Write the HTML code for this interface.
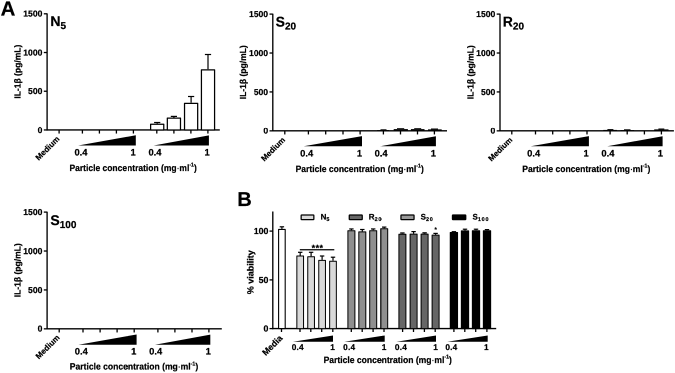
<!DOCTYPE html>
<html><head><meta charset="utf-8"><title>Figure</title>
<style>html,body{margin:0;padding:0;background:#fff;width:675px;height:373px;overflow:hidden;}#fig{width:675px;height:373px;overflow:hidden;position:relative;}svg{display:block;transform:scale(0.5);transform-origin:0 0;will-change:transform;}text{stroke:#000;stroke-width:0.22px;text-rendering:geometricPrecision;}</style></head><body><div id="fig">
<svg width="1350" height="746" viewBox="0 0 675 373" font-family="'Liberation Sans',sans-serif" font-weight="bold" fill="#000">
<defs><filter id="soft" x="0" y="0" width="675" height="373" filterUnits="userSpaceOnUse" color-interpolation-filters="sRGB"><feGaussianBlur stdDeviation="0.42"/></filter></defs>
<rect x="0" y="0" width="675" height="373" fill="#fff"/>
<g stroke-linejoin="round">
<rect x="0" y="0" width="675" height="373" fill="#fff"/>
<text x="0.6" y="15.55" font-size="20.4" text-anchor="start" >A</text>
<text x="237.2" y="206.0" font-size="20" text-anchor="start" >B</text>
<line x1="47.1" y1="13.4" x2="47.1" y2="130.6" stroke="#000" stroke-width="1.35"/>
<line x1="46.45" y1="129.95" x2="219.8" y2="129.95" stroke="#000" stroke-width="1.35"/>
<line x1="43.800000000000004" y1="13.8" x2="47.1" y2="13.8" stroke="#000" stroke-width="1.3"/>
<text x="42.4" y="16.65" font-size="8.6" text-anchor="end" >1500</text>
<line x1="43.800000000000004" y1="52.516666666666666" x2="47.1" y2="52.516666666666666" stroke="#000" stroke-width="1.3"/>
<text x="42.4" y="55.37" font-size="8.6" text-anchor="end" >1000</text>
<line x1="43.800000000000004" y1="91.23333333333332" x2="47.1" y2="91.23333333333332" stroke="#000" stroke-width="1.3"/>
<text x="42.4" y="94.08" font-size="8.6" text-anchor="end" >500</text>
<line x1="43.800000000000004" y1="129.95" x2="47.1" y2="129.95" stroke="#000" stroke-width="1.3"/>
<text x="42.4" y="132.8" font-size="8.6" text-anchor="end" >0</text>
<line x1="59.1" y1="129.95" x2="59.1" y2="133.54999999999998" stroke="#000" stroke-width="1.3"/>
<line x1="82.4" y1="129.95" x2="82.4" y2="133.54999999999998" stroke="#000" stroke-width="1.3"/>
<line x1="99.4" y1="129.95" x2="99.4" y2="133.54999999999998" stroke="#000" stroke-width="1.3"/>
<line x1="116.4" y1="129.95" x2="116.4" y2="133.54999999999998" stroke="#000" stroke-width="1.3"/>
<line x1="133.4" y1="129.95" x2="133.4" y2="133.54999999999998" stroke="#000" stroke-width="1.3"/>
<line x1="156.8" y1="129.95" x2="156.8" y2="133.54999999999998" stroke="#000" stroke-width="1.3"/>
<line x1="173.9" y1="129.95" x2="173.9" y2="133.54999999999998" stroke="#000" stroke-width="1.3"/>
<line x1="190.9" y1="129.95" x2="190.9" y2="133.54999999999998" stroke="#000" stroke-width="1.3"/>
<line x1="207.9" y1="129.95" x2="207.9" y2="133.54999999999998" stroke="#000" stroke-width="1.3"/>
<polygon points="78.20,145.5 135.8,145.5 135.8,135.3" fill="#000"/>
<polygon points="153.70,145.5 208.9,145.5 208.9,135.4" fill="#000"/>
<text x="81.0" y="155.4" font-size="9.4" text-anchor="middle" >0.4</text>
<text x="155.0" y="155.4" font-size="9.4" text-anchor="middle" >0.4</text>
<text x="133.1" y="155.4" font-size="9.4" text-anchor="middle" >1</text>
<text x="207.1" y="155.4" font-size="9.4" text-anchor="middle" >1</text>
<text transform="translate(60.10,139.50) rotate(-45)" font-size="8" text-anchor="end">Medium</text>
<text x="69.5" y="171.0" font-size="9.1" textLength="127.3" lengthAdjust="spacingAndGlyphs">Particle concentration (mg<tspan font-weight="normal">·</tspan>ml<tspan font-size="5.6" dy="-4.3">-1</tspan><tspan dy="4.3">)</tspan></text>
<text transform="translate(20.5,71.675) rotate(-90)" font-size="8.8" text-anchor="middle" textLength="54" lengthAdjust="spacingAndGlyphs">IL-1β (pg/mL)</text>
<text x="50.4" y="26.2" font-size="14">N<tspan font-size="10" dy="3">5</tspan></text>
<line x1="157.2" y1="122.5" x2="157.2" y2="123.6" stroke="#000" stroke-width="1.2"/>
<line x1="154.1" y1="122.5" x2="160.29999999999998" y2="122.5" stroke="#000" stroke-width="1.2"/>
<rect x="150.62" y="124.22" width="13.15" height="5.72" fill="#fff" stroke="#000" stroke-width="1.25"/>
<line x1="173.9" y1="116.4" x2="173.9" y2="117.5" stroke="#000" stroke-width="1.2"/>
<line x1="170.8" y1="116.4" x2="177.0" y2="116.4" stroke="#000" stroke-width="1.2"/>
<rect x="167.33" y="118.12" width="13.15" height="11.82" fill="#fff" stroke="#000" stroke-width="1.25"/>
<line x1="191.1" y1="96.5" x2="191.1" y2="102.7" stroke="#000" stroke-width="1.2"/>
<line x1="188.0" y1="96.5" x2="194.2" y2="96.5" stroke="#000" stroke-width="1.2"/>
<rect x="184.53" y="103.33" width="13.15" height="26.62" fill="#fff" stroke="#000" stroke-width="1.25"/>
<line x1="208.0" y1="54.5" x2="208.0" y2="69.2" stroke="#000" stroke-width="1.2"/>
<line x1="204.9" y1="54.5" x2="211.1" y2="54.5" stroke="#000" stroke-width="1.2"/>
<rect x="201.43" y="69.83" width="13.15" height="60.12" fill="#fff" stroke="#000" stroke-width="1.25"/>
<line x1="272.8" y1="13.7" x2="272.8" y2="131.5" stroke="#000" stroke-width="1.35"/>
<line x1="272.15000000000003" y1="130.85" x2="447.0" y2="130.85" stroke="#000" stroke-width="1.35"/>
<line x1="269.5" y1="14.1" x2="272.8" y2="14.1" stroke="#000" stroke-width="1.3"/>
<text x="268.1" y="16.95" font-size="8.6" text-anchor="end" >1500</text>
<line x1="269.5" y1="53.016666666666666" x2="272.8" y2="53.016666666666666" stroke="#000" stroke-width="1.3"/>
<text x="268.1" y="55.87" font-size="8.6" text-anchor="end" >1000</text>
<line x1="269.5" y1="91.93333333333332" x2="272.8" y2="91.93333333333332" stroke="#000" stroke-width="1.3"/>
<text x="268.1" y="94.78" font-size="8.6" text-anchor="end" >500</text>
<line x1="269.5" y1="130.85" x2="272.8" y2="130.85" stroke="#000" stroke-width="1.3"/>
<text x="268.1" y="133.7" font-size="8.6" text-anchor="end" >0</text>
<line x1="284.8" y1="130.85" x2="284.8" y2="134.45" stroke="#000" stroke-width="1.3"/>
<line x1="308.4" y1="130.85" x2="308.4" y2="134.45" stroke="#000" stroke-width="1.3"/>
<line x1="325.7" y1="130.85" x2="325.7" y2="134.45" stroke="#000" stroke-width="1.3"/>
<line x1="343.0" y1="130.85" x2="343.0" y2="134.45" stroke="#000" stroke-width="1.3"/>
<line x1="360.1" y1="130.85" x2="360.1" y2="134.45" stroke="#000" stroke-width="1.3"/>
<line x1="383.4" y1="130.85" x2="383.4" y2="134.45" stroke="#000" stroke-width="1.3"/>
<line x1="400.5" y1="130.85" x2="400.5" y2="134.45" stroke="#000" stroke-width="1.3"/>
<line x1="417.5" y1="130.85" x2="417.5" y2="134.45" stroke="#000" stroke-width="1.3"/>
<line x1="434.4" y1="130.85" x2="434.4" y2="134.45" stroke="#000" stroke-width="1.3"/>
<polygon points="303.70,146.3 362.0,146.3 362.0,136.1" fill="#000"/>
<polygon points="380.00,146.3 435.9,146.3 435.9,136.2" fill="#000"/>
<text x="306.7" y="156.3" font-size="9.4" text-anchor="middle" >0.4</text>
<text x="381.09999999999997" y="156.3" font-size="9.4" text-anchor="middle" >0.4</text>
<text x="359.5" y="156.3" font-size="9.4" text-anchor="middle" >1</text>
<text x="433.29999999999995" y="156.3" font-size="9.4" text-anchor="middle" >1</text>
<text transform="translate(285.70,140.40) rotate(-45)" font-size="8" text-anchor="end">Medium</text>
<text x="295.6" y="171.9" font-size="9.1" textLength="128.2" lengthAdjust="spacingAndGlyphs">Particle concentration (mg<tspan font-weight="normal">·</tspan>ml<tspan font-size="5.6" dy="-4.3">-1</tspan><tspan dy="4.3">)</tspan></text>
<text transform="translate(246.1,72.27499999999999) rotate(-90)" font-size="8.8" text-anchor="middle" textLength="54" lengthAdjust="spacingAndGlyphs">IL-1β (pg/mL)</text>
<text x="275.6" y="26.6" font-size="14">S<tspan font-size="10" dy="3">20</tspan></text>
<rect x="377.1" y="130.10" width="11.90" height="0.75" fill="#000" opacity="0.9"/>
<rect x="380.5" y="129.30" width="6.00" height="1" fill="#000" opacity="1"/>
<rect x="393.7" y="129.00" width="14.20" height="1.85" fill="#000" opacity="0.9"/>
<rect x="397.0" y="128.20" width="7.20" height="1" fill="#000" opacity="1"/>
<rect x="410.9" y="129.00" width="13.60" height="1.85" fill="#000" opacity="0.9"/>
<rect x="414.2" y="128.20" width="7.00" height="1" fill="#000" opacity="1"/>
<rect x="428.0" y="129.30" width="13.70" height="1.55" fill="#000" opacity="0.9"/>
<rect x="431.0" y="128.50" width="7.00" height="1" fill="#000" opacity="1"/>
<line x1="500.0" y1="13.7" x2="500.0" y2="131.5" stroke="#000" stroke-width="1.35"/>
<line x1="499.35" y1="130.85" x2="673.9" y2="130.85" stroke="#000" stroke-width="1.35"/>
<line x1="496.7" y1="14.1" x2="500.0" y2="14.1" stroke="#000" stroke-width="1.3"/>
<text x="495.3" y="16.95" font-size="8.6" text-anchor="end" >1500</text>
<line x1="496.7" y1="53.016666666666666" x2="500.0" y2="53.016666666666666" stroke="#000" stroke-width="1.3"/>
<text x="495.3" y="55.87" font-size="8.6" text-anchor="end" >1000</text>
<line x1="496.7" y1="91.93333333333332" x2="500.0" y2="91.93333333333332" stroke="#000" stroke-width="1.3"/>
<text x="495.3" y="94.78" font-size="8.6" text-anchor="end" >500</text>
<line x1="496.7" y1="130.85" x2="500.0" y2="130.85" stroke="#000" stroke-width="1.3"/>
<text x="495.3" y="133.7" font-size="8.6" text-anchor="end" >0</text>
<line x1="511.8" y1="130.85" x2="511.8" y2="134.45" stroke="#000" stroke-width="1.3"/>
<line x1="535.5" y1="130.85" x2="535.5" y2="134.45" stroke="#000" stroke-width="1.3"/>
<line x1="552.7" y1="130.85" x2="552.7" y2="134.45" stroke="#000" stroke-width="1.3"/>
<line x1="569.9" y1="130.85" x2="569.9" y2="134.45" stroke="#000" stroke-width="1.3"/>
<line x1="587.0" y1="130.85" x2="587.0" y2="134.45" stroke="#000" stroke-width="1.3"/>
<line x1="610.1" y1="130.85" x2="610.1" y2="134.45" stroke="#000" stroke-width="1.3"/>
<line x1="627.2" y1="130.85" x2="627.2" y2="134.45" stroke="#000" stroke-width="1.3"/>
<line x1="644.4" y1="130.85" x2="644.4" y2="134.45" stroke="#000" stroke-width="1.3"/>
<line x1="661.4" y1="130.85" x2="661.4" y2="134.45" stroke="#000" stroke-width="1.3"/>
<polygon points="530.80,146.3 588.9,146.3 588.9,136.1" fill="#000"/>
<polygon points="607.30,146.3 662.6,146.3 662.6,136.2" fill="#000"/>
<text x="533.7" y="156.3" font-size="9.4" text-anchor="middle" >0.4</text>
<text x="607.9000000000001" y="156.3" font-size="9.4" text-anchor="middle" >0.4</text>
<text x="586.1" y="156.3" font-size="9.4" text-anchor="middle" >1</text>
<text x="660.4" y="156.3" font-size="9.4" text-anchor="middle" >1</text>
<text transform="translate(512.90,140.40) rotate(-45)" font-size="8" text-anchor="end">Medium</text>
<text x="522.3" y="171.9" font-size="9.1" textLength="128.0" lengthAdjust="spacingAndGlyphs">Particle concentration (mg<tspan font-weight="normal">·</tspan>ml<tspan font-size="5.6" dy="-4.3">-1</tspan><tspan dy="4.3">)</tspan></text>
<text transform="translate(473.3,72.27499999999999) rotate(-90)" font-size="8.8" text-anchor="middle" textLength="54" lengthAdjust="spacingAndGlyphs">IL-1β (pg/mL)</text>
<text x="502.8" y="26.6" font-size="14">R<tspan font-size="10" dy="3">20</tspan></text>
<rect x="603.3" y="129.90" width="13.60" height="0.95" fill="#000" opacity="0.9"/>
<rect x="607.4" y="129.10" width="6.00" height="1" fill="#000" opacity="1"/>
<rect x="620.5" y="130.10" width="13.60" height="0.75" fill="#000" opacity="0.9"/>
<rect x="624.0" y="129.30" width="6.50" height="1" fill="#000" opacity="1"/>
<rect x="654.2" y="129.30" width="14.30" height="1.55" fill="#000" opacity="0.9"/>
<rect x="658.4" y="128.50" width="5.90" height="1" fill="#000" opacity="1"/>
<line x1="47.1" y1="211.7" x2="47.1" y2="329.5" stroke="#000" stroke-width="1.35"/>
<line x1="46.45" y1="328.85" x2="221.8" y2="328.85" stroke="#000" stroke-width="1.35"/>
<line x1="43.800000000000004" y1="212.1" x2="47.1" y2="212.1" stroke="#000" stroke-width="1.3"/>
<text x="42.4" y="214.95" font-size="8.6" text-anchor="end" >1500</text>
<line x1="43.800000000000004" y1="251.01666666666668" x2="47.1" y2="251.01666666666668" stroke="#000" stroke-width="1.3"/>
<text x="42.4" y="253.87" font-size="8.6" text-anchor="end" >1000</text>
<line x1="43.800000000000004" y1="289.93333333333334" x2="47.1" y2="289.93333333333334" stroke="#000" stroke-width="1.3"/>
<text x="42.4" y="292.78" font-size="8.6" text-anchor="end" >500</text>
<line x1="43.800000000000004" y1="328.85" x2="47.1" y2="328.85" stroke="#000" stroke-width="1.3"/>
<text x="42.4" y="331.7" font-size="8.6" text-anchor="end" >0</text>
<line x1="59.2" y1="328.85" x2="59.2" y2="332.45000000000005" stroke="#000" stroke-width="1.3"/>
<line x1="83.0" y1="328.85" x2="83.0" y2="332.45000000000005" stroke="#000" stroke-width="1.3"/>
<line x1="100.1" y1="328.85" x2="100.1" y2="332.45000000000005" stroke="#000" stroke-width="1.3"/>
<line x1="117.1" y1="328.85" x2="117.1" y2="332.45000000000005" stroke="#000" stroke-width="1.3"/>
<line x1="134.2" y1="328.85" x2="134.2" y2="332.45000000000005" stroke="#000" stroke-width="1.3"/>
<line x1="157.9" y1="328.85" x2="157.9" y2="332.45000000000005" stroke="#000" stroke-width="1.3"/>
<line x1="174.9" y1="328.85" x2="174.9" y2="332.45000000000005" stroke="#000" stroke-width="1.3"/>
<line x1="192.0" y1="328.85" x2="192.0" y2="332.45000000000005" stroke="#000" stroke-width="1.3"/>
<line x1="208.9" y1="328.85" x2="208.9" y2="332.45000000000005" stroke="#000" stroke-width="1.3"/>
<polygon points="78.50,344.7 136.6,344.7 136.6,334.5" fill="#000"/>
<polygon points="155.00,344.7 210.3,344.7 210.3,334.6" fill="#000"/>
<text x="81.3" y="354.6" font-size="9.4" text-anchor="middle" >0.4</text>
<text x="155.7" y="354.6" font-size="9.4" text-anchor="middle" >0.4</text>
<text x="133.70000000000002" y="354.6" font-size="9.4" text-anchor="middle" >1</text>
<text x="208.20000000000002" y="354.6" font-size="9.4" text-anchor="middle" >1</text>
<text transform="translate(60.20,338.10) rotate(-45)" font-size="8" text-anchor="end">Medium</text>
<text x="69.8" y="369.7" font-size="9.1" textLength="128.4" lengthAdjust="spacingAndGlyphs">Particle concentration (mg<tspan font-weight="normal">·</tspan>ml<tspan font-size="5.6" dy="-4.3">-1</tspan><tspan dy="4.3">)</tspan></text>
<text transform="translate(20.5,270.27500000000003) rotate(-90)" font-size="8.8" text-anchor="middle" textLength="54" lengthAdjust="spacingAndGlyphs">IL-1β (pg/mL)</text>
<text x="50.4" y="224.8" font-size="14">S<tspan font-size="10" dy="3">100</tspan></text>
<line x1="272.8" y1="211.5" x2="272.8" y2="329.25" stroke="#000" stroke-width="1.35"/>
<line x1="272.15000000000003" y1="328.6" x2="496.2" y2="328.6" stroke="#000" stroke-width="1.35"/>
<line x1="269.5" y1="231.1" x2="272.8" y2="231.1" stroke="#000" stroke-width="1.3"/>
<text x="268.40000000000003" y="234.15" font-size="8.8" text-anchor="end" >100</text>
<line x1="269.5" y1="279.9" x2="272.8" y2="279.9" stroke="#000" stroke-width="1.3"/>
<text x="268.40000000000003" y="282.95" font-size="8.8" text-anchor="end" >50</text>
<line x1="269.5" y1="328.6" x2="272.8" y2="328.6" stroke="#000" stroke-width="1.3"/>
<text x="268.40000000000003" y="331.65" font-size="8.8" text-anchor="end" >0</text>
<text transform="translate(253.6,272.3) rotate(-90)" font-size="9" text-anchor="middle">% viability</text>
<line x1="281.9" y1="226.8" x2="281.9" y2="228.9" stroke="#000" stroke-width="1.2"/>
<line x1="279.7" y1="226.8" x2="284.09999999999997" y2="226.8" stroke="#000" stroke-width="1.2"/>
<rect x="278.60" y="229.45" width="6.60" height="99.15" fill="#fff" stroke="#000" stroke-width="1.1"/>
<line x1="300.2" y1="252.3" x2="300.2" y2="255.5" stroke="#000" stroke-width="1.2"/>
<line x1="298.0" y1="252.3" x2="302.4" y2="252.3" stroke="#000" stroke-width="1.2"/>
<rect x="296.85" y="256.00" width="6.70" height="72.60" fill="#d9d9d9" stroke="#000" stroke-width="1.0"/>
<line x1="311.1" y1="252.3" x2="311.1" y2="256.3" stroke="#000" stroke-width="1.2"/>
<line x1="308.90000000000003" y1="252.3" x2="313.3" y2="252.3" stroke="#000" stroke-width="1.2"/>
<rect x="307.75" y="256.80" width="6.70" height="71.80" fill="#d9d9d9" stroke="#000" stroke-width="1.0"/>
<line x1="322.1" y1="256.0" x2="322.1" y2="259.9" stroke="#000" stroke-width="1.2"/>
<line x1="319.90000000000003" y1="256.0" x2="324.3" y2="256.0" stroke="#000" stroke-width="1.2"/>
<rect x="318.75" y="260.40" width="6.70" height="68.20" fill="#d9d9d9" stroke="#000" stroke-width="1.0"/>
<line x1="333.0" y1="257.2" x2="333.0" y2="260.7" stroke="#000" stroke-width="1.2"/>
<line x1="330.8" y1="257.2" x2="335.2" y2="257.2" stroke="#000" stroke-width="1.2"/>
<rect x="329.65" y="261.20" width="6.70" height="67.40" fill="#d9d9d9" stroke="#000" stroke-width="1.0"/>
<line x1="351.4" y1="228.95" x2="351.4" y2="230.2" stroke="#000" stroke-width="1.2"/>
<line x1="349.2" y1="228.95" x2="353.59999999999997" y2="228.95" stroke="#000" stroke-width="1.2"/>
<rect x="347.90" y="230.70" width="7.00" height="97.90" fill="#8f8f8f" stroke="#000" stroke-width="1.0"/>
<line x1="362.3" y1="229.5" x2="362.3" y2="231.4" stroke="#000" stroke-width="1.2"/>
<line x1="360.1" y1="229.5" x2="364.5" y2="229.5" stroke="#000" stroke-width="1.2"/>
<rect x="358.80" y="231.90" width="7.00" height="96.70" fill="#8f8f8f" stroke="#000" stroke-width="1.0"/>
<line x1="373.2" y1="228.95" x2="373.2" y2="230.2" stroke="#000" stroke-width="1.2"/>
<line x1="371.0" y1="228.95" x2="375.4" y2="228.95" stroke="#000" stroke-width="1.2"/>
<rect x="369.70" y="230.70" width="7.00" height="97.90" fill="#8f8f8f" stroke="#000" stroke-width="1.0"/>
<line x1="384.2" y1="227.1" x2="384.2" y2="228.3" stroke="#000" stroke-width="1.2"/>
<line x1="382.0" y1="227.1" x2="386.4" y2="227.1" stroke="#000" stroke-width="1.2"/>
<rect x="380.70" y="228.80" width="7.00" height="99.80" fill="#8f8f8f" stroke="#000" stroke-width="1.0"/>
<line x1="402.4" y1="232.95" x2="402.4" y2="233.7" stroke="#000" stroke-width="1.2"/>
<line x1="400.2" y1="232.95" x2="404.59999999999997" y2="232.95" stroke="#000" stroke-width="1.2"/>
<rect x="398.90" y="234.20" width="7.00" height="94.40" fill="#666" stroke="#000" stroke-width="1.0"/>
<line x1="413.6" y1="231.6" x2="413.6" y2="233.6" stroke="#000" stroke-width="1.2"/>
<line x1="411.40000000000003" y1="231.6" x2="415.8" y2="231.6" stroke="#000" stroke-width="1.2"/>
<rect x="410.10" y="234.10" width="7.00" height="94.50" fill="#666" stroke="#000" stroke-width="1.0"/>
<line x1="424.6" y1="232.8" x2="424.6" y2="233.6" stroke="#000" stroke-width="1.2"/>
<line x1="422.40000000000003" y1="232.8" x2="426.8" y2="232.8" stroke="#000" stroke-width="1.2"/>
<rect x="421.10" y="234.10" width="7.00" height="94.50" fill="#666" stroke="#000" stroke-width="1.0"/>
<line x1="435.6" y1="233.4" x2="435.6" y2="234.6" stroke="#000" stroke-width="1.2"/>
<line x1="433.40000000000003" y1="233.4" x2="437.8" y2="233.4" stroke="#000" stroke-width="1.2"/>
<rect x="432.10" y="235.10" width="7.00" height="93.50" fill="#666" stroke="#000" stroke-width="1.0"/>
<line x1="453.9" y1="231.7" x2="453.9" y2="232.0" stroke="#000" stroke-width="1.2"/>
<line x1="451.7" y1="231.7" x2="456.09999999999997" y2="231.7" stroke="#000" stroke-width="1.2"/>
<rect x="450.25" y="232.50" width="7.30" height="96.10" fill="#000" stroke="#000" stroke-width="1.0"/>
<line x1="465.0" y1="229.2" x2="465.0" y2="230.4" stroke="#000" stroke-width="1.2"/>
<line x1="462.8" y1="229.2" x2="467.2" y2="229.2" stroke="#000" stroke-width="1.2"/>
<rect x="461.35" y="230.90" width="7.30" height="97.70" fill="#000" stroke="#000" stroke-width="1.0"/>
<line x1="476.0" y1="229.2" x2="476.0" y2="230.2" stroke="#000" stroke-width="1.2"/>
<line x1="473.8" y1="229.2" x2="478.2" y2="229.2" stroke="#000" stroke-width="1.2"/>
<rect x="472.35" y="230.70" width="7.30" height="97.90" fill="#000" stroke="#000" stroke-width="1.0"/>
<line x1="487.0" y1="229.6" x2="487.0" y2="230.2" stroke="#000" stroke-width="1.2"/>
<line x1="484.8" y1="229.6" x2="489.2" y2="229.6" stroke="#000" stroke-width="1.2"/>
<rect x="483.35" y="230.70" width="7.30" height="97.90" fill="#000" stroke="#000" stroke-width="1.0"/>
<line x1="281.5" y1="328.6" x2="281.5" y2="332.0" stroke="#000" stroke-width="1.3"/>
<line x1="300.0" y1="328.6" x2="300.0" y2="332.0" stroke="#000" stroke-width="1.3"/>
<line x1="310.8" y1="328.6" x2="310.8" y2="332.0" stroke="#000" stroke-width="1.3"/>
<line x1="321.7" y1="328.6" x2="321.7" y2="332.0" stroke="#000" stroke-width="1.3"/>
<line x1="332.8" y1="328.6" x2="332.8" y2="332.0" stroke="#000" stroke-width="1.3"/>
<line x1="351.3" y1="328.6" x2="351.3" y2="332.0" stroke="#000" stroke-width="1.3"/>
<line x1="362.2" y1="328.6" x2="362.2" y2="332.0" stroke="#000" stroke-width="1.3"/>
<line x1="373.1" y1="328.6" x2="373.1" y2="332.0" stroke="#000" stroke-width="1.3"/>
<line x1="384.0" y1="328.6" x2="384.0" y2="332.0" stroke="#000" stroke-width="1.3"/>
<line x1="402.6" y1="328.6" x2="402.6" y2="332.0" stroke="#000" stroke-width="1.3"/>
<line x1="413.5" y1="328.6" x2="413.5" y2="332.0" stroke="#000" stroke-width="1.3"/>
<line x1="424.4" y1="328.6" x2="424.4" y2="332.0" stroke="#000" stroke-width="1.3"/>
<line x1="435.2" y1="328.6" x2="435.2" y2="332.0" stroke="#000" stroke-width="1.3"/>
<line x1="453.9" y1="328.6" x2="453.9" y2="332.0" stroke="#000" stroke-width="1.3"/>
<line x1="464.8" y1="328.6" x2="464.8" y2="332.0" stroke="#000" stroke-width="1.3"/>
<line x1="475.7" y1="328.6" x2="475.7" y2="332.0" stroke="#000" stroke-width="1.3"/>
<line x1="486.9" y1="328.6" x2="486.9" y2="332.0" stroke="#000" stroke-width="1.3"/>
<polygon points="293.00,341.7 333.0,341.7 333.0,335.45" fill="#000"/>
<polygon points="344.40,341.7 384.7,341.7 384.7,335.45" fill="#000"/>
<polygon points="396.50,341.7 436.0,341.7 436.0,335.45" fill="#000"/>
<polygon points="447.30,341.7 487.7,341.7 487.7,335.45" fill="#000"/>
<text x="297.79999999999995" y="350.15" font-size="8.3" text-anchor="middle" letter-spacing="0.2">0.4</text>
<text x="349.2" y="350.15" font-size="8.3" text-anchor="middle" letter-spacing="0.2">0.4</text>
<text x="401.0" y="350.15" font-size="8.3" text-anchor="middle" letter-spacing="0.2">0.4</text>
<text x="451.4" y="350.15" font-size="8.3" text-anchor="middle" letter-spacing="0.2">0.4</text>
<text x="332.5" y="350.15" font-size="8.3" text-anchor="middle" >1</text>
<text x="384.1" y="350.15" font-size="8.3" text-anchor="middle" >1</text>
<text x="435.6" y="350.15" font-size="8.3" text-anchor="middle" >1</text>
<text x="486.3" y="350.15" font-size="8.3" text-anchor="middle" >1</text>
<text transform="translate(283.1,338.7) rotate(-45)" font-size="8.7" text-anchor="end">Media</text>
<text x="323.6" y="363.0" font-size="9.1" textLength="128.3" lengthAdjust="spacingAndGlyphs">Particle concentration (mg<tspan font-weight="normal">·</tspan>ml<tspan font-size="5.6" dy="-4.3">-1</tspan><tspan dy="4.3">)</tspan></text>
<line x1="299.8" y1="249.75" x2="334.3" y2="249.75" stroke="#000" stroke-width="1.25"/>
<text x="317.6" y="251.2" font-size="9" text-anchor="middle" letter-spacing="0.45">***</text>
<text x="435.7" y="231.6" font-size="6" text-anchor="middle" >*</text>
<rect x="301.15" y="215.05" width="12.70" height="4.55" rx="0.5" fill="#d9d9d9" stroke="#000" stroke-width="1.25"/>
<text x="320.6" y="219.4" font-size="8">N<tspan font-size="5.4" dy="1.7" letter-spacing="0.8">5</tspan></text>
<rect x="349.25" y="215.05" width="13.00" height="4.55" rx="0.5" fill="#666" stroke="#000" stroke-width="1.25"/>
<text x="368.8" y="219.4" font-size="8">R<tspan font-size="5.4" dy="1.7" letter-spacing="0.8">20</tspan></text>
<rect x="400.95" y="215.05" width="13.10" height="4.55" rx="0.5" fill="#999" stroke="#000" stroke-width="1.25"/>
<text x="420.6" y="219.4" font-size="8">S<tspan font-size="5.4" dy="1.7" letter-spacing="0.8">20</tspan></text>
<rect x="452.45" y="215.05" width="13.30" height="4.55" rx="0.5" fill="#000" stroke="#000" stroke-width="1.25"/>
<text x="472.5" y="219.4" font-size="8">S<tspan font-size="5.4" dy="1.7" letter-spacing="0.8">100</tspan></text>
</g>
</svg></div></body></html>
